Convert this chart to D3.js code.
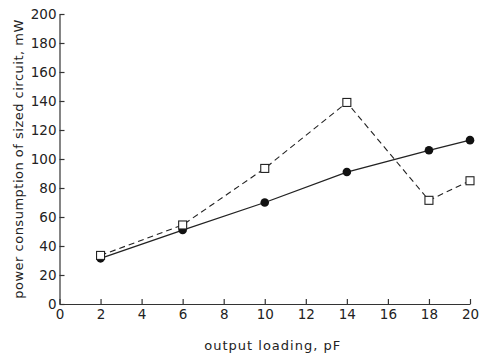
<!DOCTYPE html>
<html lang="en">
<head>
  <meta charset="UTF-8">
  <script src="https://d3js.org/d3.v7.min.js"></script>
  <style>
    body { margin: 0; padding: 0; background: #fff; overflow: hidden; }
    text { font-family: "DejaVu Sans", sans-serif; fill: #222; }
  </style>
</head>
<body>
  <script>
    // data
    const loading = [2, 6, 10, 14, 18, 20];
    const sizedPower = [31.5, 51, 70, 91, 106, 113];   // filled circles, solid line
    const otherPower = [33.5, 54.5, 93.5, 139, 71.5, 85]; // open squares, dashed line
    const xTicks = [0, 2, 4, 6, 8, 10, 12, 14, 16, 18, 20];
    const yTicks = [0, 20, 40, 60, 80, 100, 120, 140, 160, 180, 200];

    const width = 484, height = 358;
    const margin = { left: 59.5, right: 14, top: 14, bottom: 54 };

    const svg = d3.select('body').append('svg')
      .attr('width', width)
      .attr('height', height);

    const x = d3.scaleLinear().domain([0, 20]).range([margin.left, width - margin.right]);
    const y = d3.scaleLinear().domain([0, 200]).range([height - margin.bottom, margin.top]);

    // axes: ticks point inward
    const xAxis = svg.append('g')
      .attr('transform', `translate(0,${y(0)})`)
      .call(d3.axisBottom(x).tickValues(xTicks).tickSizeInner(-5).tickSizeOuter(0).tickPadding(4));
    const yAxis = svg.append('g')
      .attr('transform', `translate(${x(0)},0)`)
      .call(d3.axisLeft(y).tickValues(yTicks).tickSizeInner(-5).tickSizeOuter(0).tickPadding(3));

    [xAxis, yAxis].forEach(g => {
      g.select('.domain').attr('stroke', '#333').attr('stroke-width', 1.2);
      g.selectAll('.tick line').attr('stroke', '#333').attr('stroke-width', 1.2);
      g.selectAll('.tick text').style('font-size', '13.5px').style('font-family', '"DejaVu Sans", sans-serif').attr('fill', '#222');
    });
    xAxis.selectAll('.tick text').attr('dy', '0.85em');

    const line = d3.line().x(d => x(d[0])).y(d => y(d[1]));
    const sizedPts = loading.map((v, i) => [v, sizedPower[i]]);
    const otherPts = loading.map((v, i) => [v, otherPower[i]]);

    svg.append('path')
      .datum(otherPts)
      .attr('d', line)
      .attr('fill', 'none')
      .attr('stroke', '#222')
      .attr('stroke-width', 1.1)
      .attr('stroke-dasharray', '6,4');

    svg.append('path')
      .datum(sizedPts)
      .attr('d', line)
      .attr('fill', 'none')
      .attr('stroke', '#222')
      .attr('stroke-width', 1.3);

    svg.append('g').selectAll('circle')
      .data(sizedPts)
      .enter().append('circle')
      .attr('cx', d => x(d[0]))
      .attr('cy', d => y(d[1]))
      .attr('r', 4.3)
      .attr('fill', '#111');

    svg.append('g').selectAll('rect')
      .data(otherPts)
      .enter().append('rect')
      .attr('x', d => x(d[0]) - 4)
      .attr('y', d => y(d[1]) - 4)
      .attr('width', 8)
      .attr('height', 8)
      .attr('fill', '#fff')
      .attr('stroke', '#222')
      .attr('stroke-width', 1.1);

    // axis titles
    svg.append('text')
      .attr('x', (x(0) + x(20)) / 2 + 8)
      .attr('y', 350)
      .attr('text-anchor', 'middle')
      .style('font-size', '13px')
      .style('letter-spacing', '1px')
      .text('output loading, pF');

    svg.append('text')
      .attr('transform', `translate(23,${(y(0) + y(200)) / 2}) rotate(-90)`)
      .attr('text-anchor', 'middle')
      .style('font-size', '13px')
      .style('letter-spacing', '0.5px')
      .text('power consumption of sized circuit, mW');
  </script>
</body>
</html>
